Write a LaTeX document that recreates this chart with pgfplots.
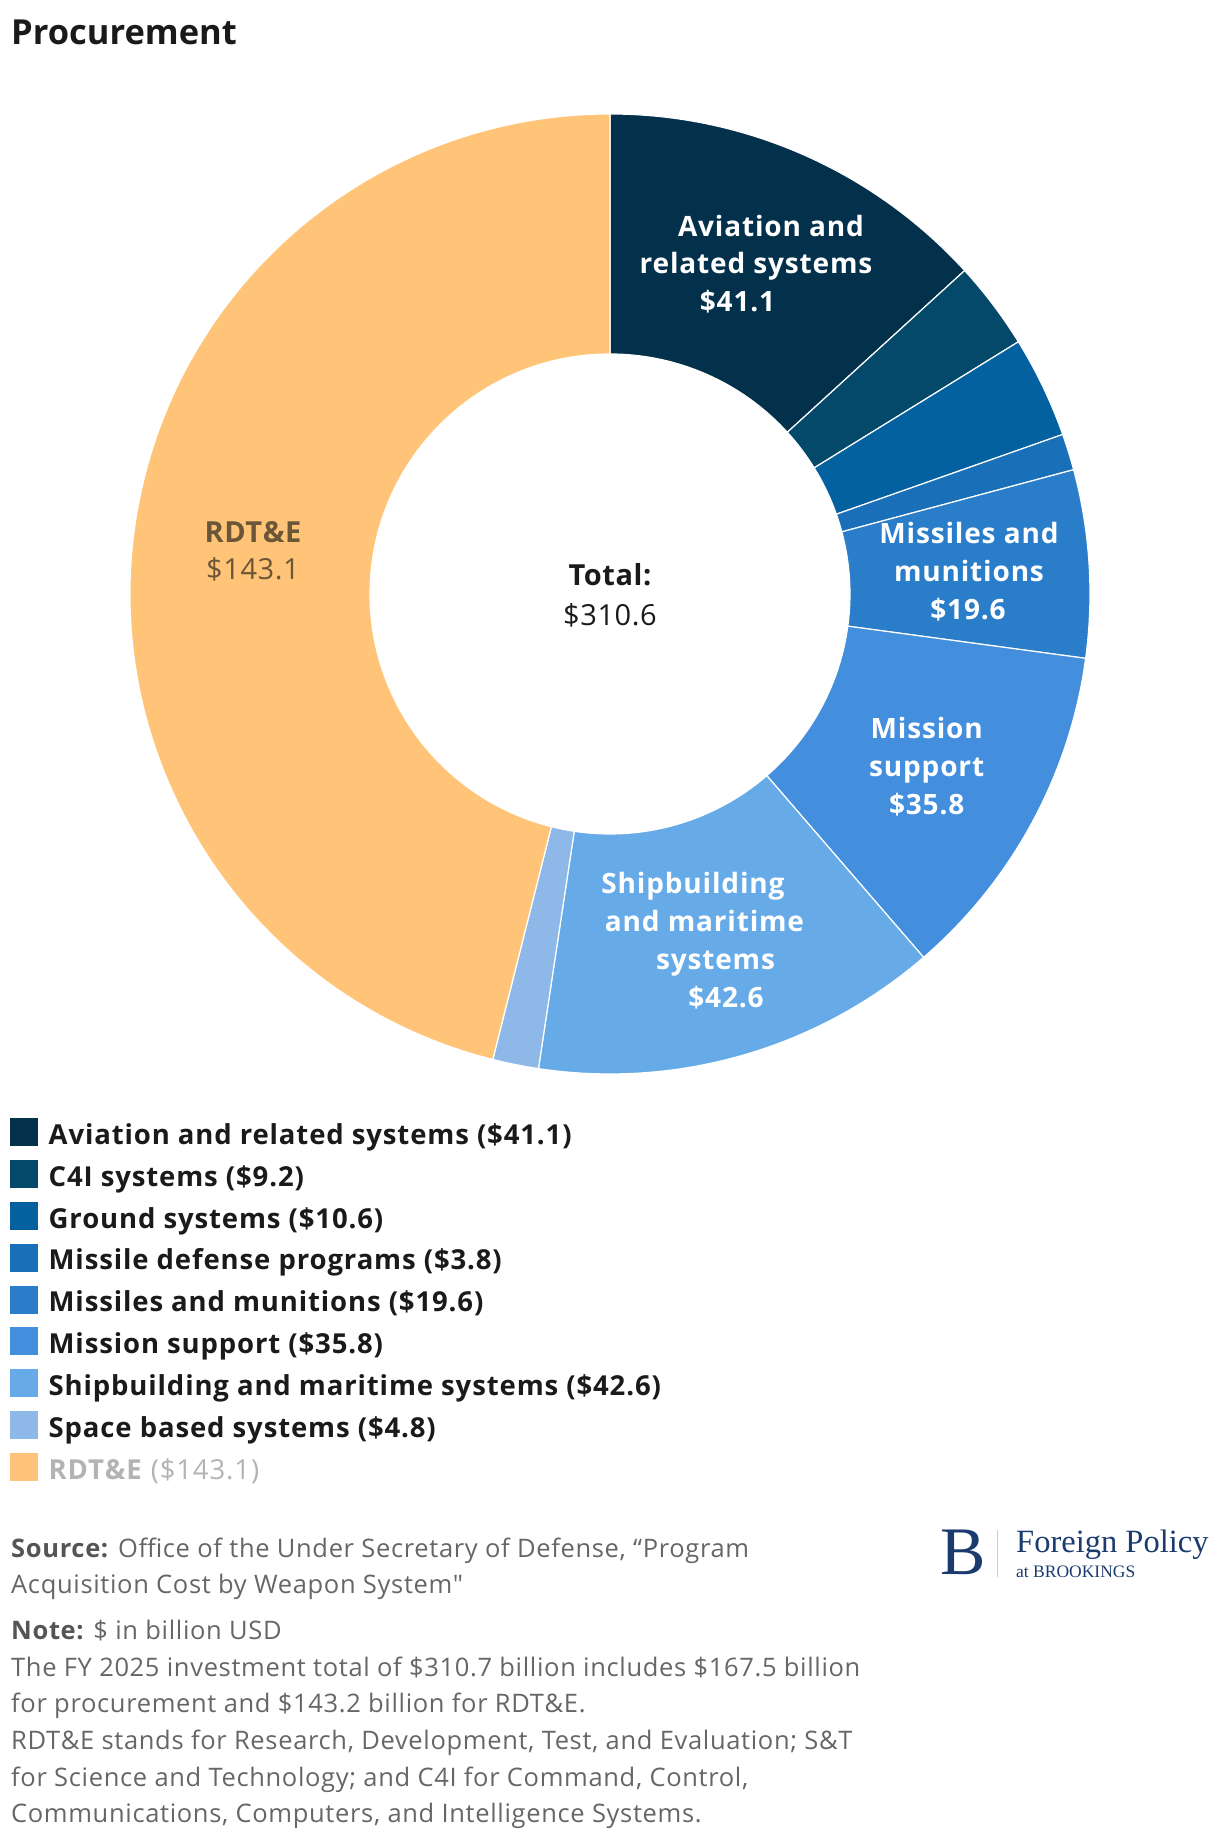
\documentclass[border=0pt]{standalone}
\usepackage{pgfplots}
\pgfplotsset{compat=1.18}
\usepackage{pgfplotstable}
\usepackage{fontspec}
\setmainfont{Open Sans}
\newfontfamily\lblfont{Open Sans}[LetterSpace=3.0]
\newfontfamily\legfont{Open Sans}[LetterSpace=3.2]
\newfontfamily\notefont{Open Sans}[LetterSpace=2.6]
\newfontfamily\totfont{Open Sans}[LetterSpace=2.0]
\newfontfamily\logofont{Liberation Serif}

\definecolor{c0}{HTML}{03304A}
\definecolor{c1}{HTML}{04496A}
\definecolor{c2}{HTML}{0361A0}
\definecolor{c3}{HTML}{1A70B8}
\definecolor{c4}{HTML}{2A7EC9}
\definecolor{c5}{HTML}{438EDD}
\definecolor{c6}{HTML}{66AAE8}
\definecolor{c7}{HTML}{8DB8E8}
\definecolor{c8}{HTML}{FFC478}
\definecolor{ink}{HTML}{1A1A1A}
\definecolor{notegray}{HTML}{666666}
\definecolor{notebold}{HTML}{555555}
\definecolor{leggray}{HTML}{B3B3B3}
\definecolor{rdtbrown}{HTML}{6B5638}
\definecolor{navy}{HTML}{1B3B6F}
\definecolor{logoline}{HTML}{C8CCD4}

\pgfplotstableread{
value
41.1
9.2
10.6
3.8
19.6
35.8
42.6
4.8
143.1
}\datatable

\pgfplotstablegetrowsof{\datatable}
\pgfmathtruncatemacro\lastrow{\pgfplotsretval-1}
\gdef\total{0}
\foreach \i in {0,...,\lastrow}{%
  \pgfplotstablegetelem{\i}{value}\of\datatable
  \pgfmathsetmacro\tmpsum{\total+\pgfplotsretval}%
  \xdef\total{\tmpsum}%
}

\newcommand\fs[2]{\fontsize{#1}{#2}\selectfont}

\begin{document}
\begin{tikzpicture}[x=1pt,y=1pt]
\useasboundingbox (0,0) rectangle (1220,1844);

\begin{axis}[at={(610pt,1250pt)}, anchor=center, scale only axis,
  width=960pt, height=960pt, xmin=-1, xmax=1, ymin=-1, ymax=1,
  hide axis, clip=false]
\pgfplotsextra{%
  \begin{scope}[shift={(axis cs:0,0)}]
  \gdef\cum{0}%
  \foreach \i in {0,...,\lastrow}{%
    \pgfplotstablegetelem{\i}{value}\of\datatable
    \pgfmathsetmacro\angA{90-(\cum/\total)*360}%
    \pgfmathsetmacro\newcum{\cum+\pgfplotsretval}%
    \pgfmathsetmacro\angB{90-(\newcum/\total)*360}%
    \xdef\cum{\newcum}%
    \fill[fill=c\i, draw=white, line width=1.2pt] (\angA:480pt)
      arc[start angle=\angA, end angle=\angB, radius=480pt]
      -- (\angB:240pt)
      arc[start angle=\angB, end angle=\angA, radius=240pt] -- cycle;
  }
  \end{scope}
}
\end{axis}

% title
\node[anchor=base west, inner sep=0, text=ink, font=\fs{34.5}{40}\bfseries] at (11,1799) {Procurement};

% donut labels
\begin{scope}[every node/.style={anchor=base, inner sep=0, text=white, font=\lblfont\fs{28}{32}\bfseries}]
\node at (771,1607.3) {Aviation and};
\node at (756,1570) {related systems};
\node at (737.5,1532.3) {\$41.1};
\node at (969,1300.7) {Missiles and};
\node at (969,1262.3) {munitions};
\node at (968,1224.7) {\$19.6};
\node at (926.7,1105.7) {Mission};
\node at (926.7,1067.3) {support};
\node at (926.7,1029) {\$35.8};
\node at (693,950.7) {Shipbuilding};
\node at (704.5,912.3) {and maritime};
\node at (715.5,874.7) {systems};
\node at (726,836.7) {\$42.6};
\end{scope}
\node[anchor=base, inner sep=0, text=rdtbrown, font=\totfont\fs{29}{32}\bfseries] at (253,1301) {RDT\&E};
\node[anchor=base, inner sep=0, text=rdtbrown, font=\totfont\fs{29}{32}] at (253,1264) {\$143.1};
\node[anchor=base, inner sep=0, text=ink, font=\totfont\fs{29}{32}\bfseries] at (610,1258.7) {Total:};
\node[anchor=base, inner sep=0, text=ink, font=\totfont\fs{29}{32}] at (610,1218.8) {\$310.6};

% legend
\foreach \k/\txt in {0/{Aviation and related systems (\$41.1)},
  1/{C4I systems (\$9.2)}, 2/{Ground systems (\$10.6)},
  3/{Missile defense programs (\$3.8)}, 4/{Missiles and munitions (\$19.6)},
  5/{Mission support (\$35.8)}, 6/{Shipbuilding and maritime systems (\$42.6)},
  7/{Space based systems (\$4.8)}}{%
  \pgfmathsetmacro\by{699.7-41.9*\k}
  \fill[c\k] (10,\by-1.7) rectangle (37.7,\by+26.3);
  \node[anchor=base west, inner sep=0, text=ink, font=\legfont\fs{27.5}{30}\bfseries] at (48.5,\by) {\txt};
}
\pgfmathsetmacro\by{699.7-41.9*8}
\fill[c8] (10,\by-1.7) rectangle (37.7,\by+26.3);
\node[anchor=base west, inner sep=0, text=leggray, font=\legfont\fs{27.5}{30}] at (48.5,\by) {\textbf{RDT\&E} (\$143.1)};

% source and notes
\begin{scope}[every node/.style={anchor=base west, inner sep=0, text=notegray, font=\notefont\fs{25.5}{30}}]
\node at (11,286.6) {\textcolor{notebold}{\bfseries Source:} Office of the Under Secretary of Defense, “Program};
\node at (11,250.1) {Acquisition Cost by Weapon System"};
\node at (11,204.6) {\textcolor{notebold}{\bfseries Note:} \$ in billion USD};
\node at (11,167.9) {The FY 2025 investment total of \$310.7 billion includes \$167.5 billion};
\node at (11,131.2) {for procurement and \$143.2 billion for RDT\&E.};
\node at (11,94.5) {RDT\&E stands for Research, Development, Test, and Evaluation; S\&T};
\node at (11,57.8) {for Science and Technology; and C4I for Command, Control,};
\node at (11,21.1) {Communications, Computers, and Intelligence Systems.};
\end{scope}

% logo
\node[anchor=base west, inner sep=0, text=navy, font=\logofont\fs{68}{70}] at (940,269) {B};
\draw[logoline, line width=1.2pt] (997.3,314) -- (997.3,267);
\node[anchor=base west, inner sep=0, text=navy, font=\logofont\fs{32.5}{36}] at (1016,291.3) {Foreign Policy};
\node[anchor=base west, inner sep=0, text=navy, font=\logofont\fs{17.5}{20}] at (1016,266.7) {at BROOKINGS};
\end{tikzpicture}
\end{document}
